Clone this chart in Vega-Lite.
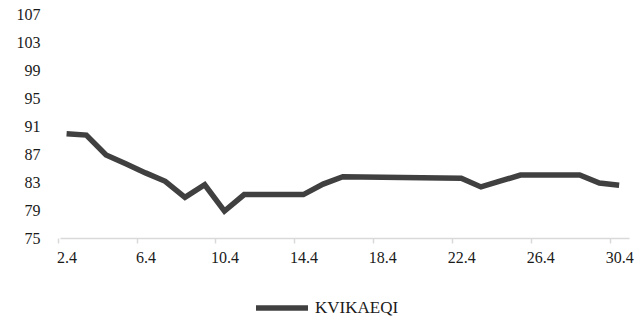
{
  "$schema": "https://vega.github.io/schema/vega-lite/v6.json",
  "autosize": "none",
  "width": 569,
  "height": 224,
  "padding": {"left": 60, "top": 14, "right": 15, "bottom": 82},
  "background": "white",
  "config": {
    "view": {"stroke": null},
    "font": "Liberation Serif",
    "axis": {"labelFont": "Liberation Serif", "labelFontSize": 16, "labelColor": "#1a1a1a", "grid": false, "title": null}
  },
  "data": {
    "values": [
      {"date": "2024-04-02", "series": "KVIKAEQI", "value": 89.9},
      {"date": "2024-04-03", "series": "KVIKAEQI", "value": 89.7},
      {"date": "2024-04-04", "series": "KVIKAEQI", "value": 86.85},
      {"date": "2024-04-05", "series": "KVIKAEQI", "value": 85.6},
      {"date": "2024-04-06", "series": "KVIKAEQI", "value": 84.3},
      {"date": "2024-04-07", "series": "KVIKAEQI", "value": 83.1},
      {"date": "2024-04-08", "series": "KVIKAEQI", "value": 80.8},
      {"date": "2024-04-09", "series": "KVIKAEQI", "value": 82.6},
      {"date": "2024-04-10", "series": "KVIKAEQI", "value": 78.85},
      {"date": "2024-04-11", "series": "KVIKAEQI", "value": 81.2},
      {"date": "2024-04-12", "series": "KVIKAEQI", "value": 81.2},
      {"date": "2024-04-13", "series": "KVIKAEQI", "value": 81.2},
      {"date": "2024-04-14", "series": "KVIKAEQI", "value": 81.2},
      {"date": "2024-04-15", "series": "KVIKAEQI", "value": 82.7},
      {"date": "2024-04-16", "series": "KVIKAEQI", "value": 83.75},
      {"date": "2024-04-17", "series": "KVIKAEQI", "value": 83.7},
      {"date": "2024-04-18", "series": "KVIKAEQI", "value": 83.67},
      {"date": "2024-04-19", "series": "KVIKAEQI", "value": 83.63},
      {"date": "2024-04-20", "series": "KVIKAEQI", "value": 83.6},
      {"date": "2024-04-21", "series": "KVIKAEQI", "value": 83.57},
      {"date": "2024-04-22", "series": "KVIKAEQI", "value": 83.53},
      {"date": "2024-04-23", "series": "KVIKAEQI", "value": 82.3},
      {"date": "2024-04-24", "series": "KVIKAEQI", "value": 83.15},
      {"date": "2024-04-25", "series": "KVIKAEQI", "value": 84.0},
      {"date": "2024-04-26", "series": "KVIKAEQI", "value": 84.0},
      {"date": "2024-04-27", "series": "KVIKAEQI", "value": 84.0},
      {"date": "2024-04-28", "series": "KVIKAEQI", "value": 84.0},
      {"date": "2024-04-29", "series": "KVIKAEQI", "value": 82.85},
      {"date": "2024-04-30", "series": "KVIKAEQI", "value": 82.55}
    ]
  },
  "mark": {"type": "line", "strokeWidth": 5.5, "strokeJoin": "miter", "strokeCap": "butt"},
  "encoding": {
    "x": {
      "field": "date",
      "type": "temporal",
      "scale": {
        "type": "utc",
        "domain": [
          {"year": 2024, "month": 4, "date": 1, "hours": 16, "utc": true},
          {"year": 2024, "month": 4, "date": 30, "hours": 12, "utc": true}
        ]
      },
      "axis": {
        "values": [
          {"year": 2024, "month": 4, "date": 2, "utc": true},
          {"year": 2024, "month": 4, "date": 6, "utc": true},
          {"year": 2024, "month": 4, "date": 10, "utc": true},
          {"year": 2024, "month": 4, "date": 14, "utc": true},
          {"year": 2024, "month": 4, "date": 18, "utc": true},
          {"year": 2024, "month": 4, "date": 22, "utc": true},
          {"year": 2024, "month": 4, "date": 26, "utc": true},
          {"year": 2024, "month": 4, "date": 30, "utc": true}
        ],
        "labelExpr": "utcFormat(datum.value, '%-d.%-m')",
        "domainColor": "#d9d9d9",
        "domainWidth": 1.5,
        "tickColor": "#d9d9d9",
        "tickSize": 5,
        "tickWidth": 1.5,
        "tickOffset": -9,
        "labelOffset": 9,
        "labelPadding": 6,
        "labelAngle": 0,
        "labelFlush": false,
        "labelOverlap": false
      }
    },
    "y": {
      "field": "value",
      "type": "quantitative",
      "scale": {"domain": [75, 107], "zero": false, "nice": false},
      "axis": {
        "values": [75, 79, 83, 87, 91, 95, 99, 103, 107],
        "domain": false,
        "ticks": false,
        "labelPadding": 20,
        "labelFlush": false,
        "labelOverlap": false
      }
    },
    "color": {
      "field": "series",
      "type": "nominal",
      "scale": {"range": ["#404040"]},
      "legend": {
        "title": null,
        "orient": "none",
        "legendX": 193,
        "legendY": 265,
        "direction": "horizontal",
        "symbolType": "stroke",
        "symbolStrokeWidth": 5.5,
        "symbolSize": 2704,
        "labelFont": "Liberation Serif",
        "labelFontSize": 17,
        "labelColor": "#1a1a1a",
        "labelOffset": 4
      }
    }
  }
}
